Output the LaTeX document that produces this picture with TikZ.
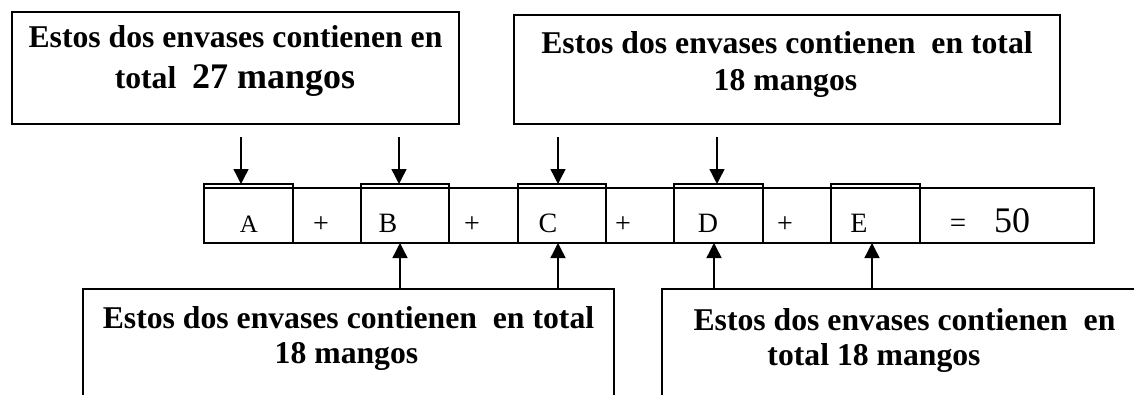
\documentclass[tikz,border=0pt]{standalone}
\usepackage{fontspec}
\setmainfont{Liberation Serif}
\usetikzlibrary{arrows.meta}
\begin{document}
\begin{tikzpicture}[x=1pt,y=-1pt,
  box/.style={draw, line width=2pt, inner sep=0pt, outer sep=0pt, anchor=north west},
  cell/.style={draw, line width=1.6pt, inner sep=0pt, outer sep=0pt, anchor=north west},
  big/.style={font=\fontsize{31.7}{38}\selectfont\bfseries, anchor=base, inner sep=0pt},
  lbl/.style={anchor=base, inner sep=0pt},
  arr/.style={line width=1.4pt, -{Triangle[length=15pt,width=15pt]}}]
\useasboundingbox (0,0) rectangle (1134,394);
\clip (0,0) rectangle (1134,394);
% callout boxes
\node[box, minimum width=447pt, minimum height=112pt] (tl) at (12,12) {};
\node[box, minimum width=546pt, minimum height=109pt] (tr) at (514,15) {};
\node[box, minimum width=531pt, minimum height=200pt] (bl) at (83,289) {};
\node[box, minimum width=490pt, minimum height=200pt] (br) at (662,289) {};
% texts
\node[big] (tl1) at (235.5,47) {Estos dos envases contienen en};
\node[big] (tl2) at (235,88) {total\ \ {\fontsize{36}{40}\selectfont 27 mangos}};
\node[big] (tr1) at (787,53) {Estos dos envases contienen\ \ en total};
\node[big] (tr2) at (785.5,90) {18 mangos};
\node[big] (bl1) at (348.5,328) {Estos dos envases contienen\ \ en total};
\node[big] (bl2) at (346.5,363) {18 mangos};
\node[big] (br1) at (904.5,330) {Estos dos envases contienen\ \ en};
\node[big] (br2) at (874,365) {total 18 mangos};
% strip and cells
\node[cell, minimum width=890pt, minimum height=55pt] (strip) at (204,188) {};
\node[cell, minimum width=89pt, minimum height=59pt] (cA) at (204,184) {};
\node[cell, minimum width=88pt, minimum height=59pt] (cB) at (361,184) {};
\node[cell, minimum width=88pt, minimum height=59pt] (cC) at (518,184) {};
\node[cell, minimum width=89pt, minimum height=59pt] (cD) at (674,184) {};
\node[cell, minimum width=89pt, minimum height=59pt] (cE) at (831,184) {};
\node[lbl, font=\fontsize{25}{30}\selectfont] (tA) at (249,232) {A};
\node[lbl, font=\fontsize{28}{32}\selectfont] (p1) at (321,232) {+};
\node[lbl, font=\fontsize{28}{32}\selectfont] (tB) at (388,232) {B};
\node[lbl, font=\fontsize{28}{32}\selectfont] (p2) at (472,232) {+};
\node[lbl, font=\fontsize{28}{32}\selectfont] (tC) at (548,232) {C};
\node[lbl, font=\fontsize{28}{32}\selectfont] (p3) at (623,232) {+};
\node[lbl, font=\fontsize{28}{32}\selectfont] (tD) at (708,232) {D};
\node[lbl, font=\fontsize{28}{32}\selectfont] (p4) at (785,232) {+};
\node[lbl, font=\fontsize{28}{32}\selectfont] (tE) at (859,232) {E};
\node[lbl, font=\fontsize{29}{32}\selectfont] (eq) at (958,232) {=};
\node[lbl, font=\fontsize{36}{40}\selectfont] (res) at (1012,232) {50};
% arrows down
\coordinate (d1) at (241,137);
\coordinate (d2) at (399,137);
\coordinate (d3) at (558,137);
\coordinate (d4) at (717,137);
\draw[arr] (d1) -- (d1 |- cA.north);
\draw[arr] (d2) -- (d2 |- cB.north);
\draw[arr] (d3) -- (d3 |- cC.north);
\draw[arr] (d4) -- (d4 |- cD.north);
% arrows up
\coordinate (u1) at (400,289);
\coordinate (u2) at (558,289);
\coordinate (u3) at (714,289);
\coordinate (u4) at (872,289);
\draw[arr] (u1) -- (u1 |- cB.south);
\draw[arr] (u2) -- (u2 |- cC.south);
\draw[arr] (u3) -- (u3 |- cD.south);
\draw[arr] (u4) -- (u4 |- cE.south);
\end{tikzpicture}
\end{document}
